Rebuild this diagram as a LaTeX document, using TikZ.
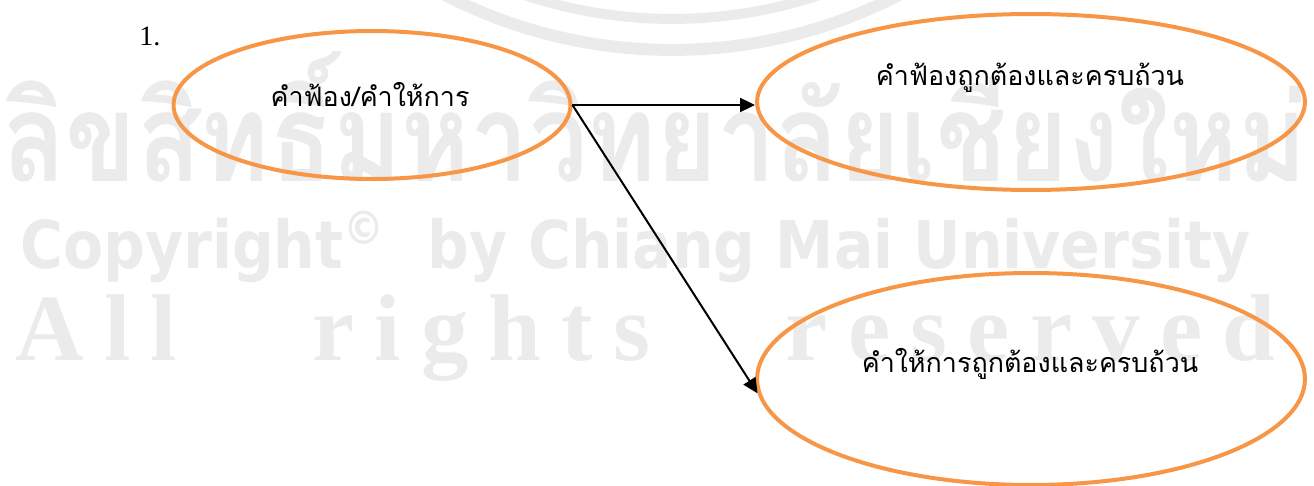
\documentclass[tikz,border=0pt]{standalone}
\usepackage{fontspec}
\setmainfont{Liberation Serif}
\newfontfamily\thaifont[Script=Thai]{Loma}
\newfontfamily\wmsans{DejaVu Sans}
\usetikzlibrary{shapes.geometric,arrows.meta}
\definecolor{ovalorange}{HTML}{F79646}
\definecolor{wmgray}{HTML}{EBEBEB}

\begin{document}
\begin{tikzpicture}[x=0.02cm,y=-0.02cm]
	\tikzstyle{oval}=[ellipse,draw=ovalorange,line width=0.08cm,inner sep=0pt]
	\tikzstyle{thai}=[font=\thaifont\fontsize{15.3}{18}\selectfont,inner sep=0pt,anchor=base]
	\tikzstyle{wm}=[text=wmgray,inner sep=0pt,anchor=base west]
	\tikzstyle{link}=[line width=0.04cm,-{Triangle[length=0.3cm,width=0.28cm]}]
	\useasboundingbox (0,0) rectangle (1314,486);
	% watermark behind the chart
	\begin{scope}
		\clip (0,0) rectangle (1314,486);
		\draw[wmgray,line width=0.24cm] (672,-446) circle[radius=9.92cm];
		\draw[wmgray,line width=0.2cm] (672,-446) circle[radius=9.3cm];
	\end{scope}
	\node[wm] (wmthai) at (2,182) {\resizebox{26.1cm}{2.6cm}{\thaifont\bfseries ลิขสิทธิ์มหาวิทยาลัยเชียงใหม่}};
	\node[wm] (wmcopy) at (20,268) {\resizebox{24.6cm}{1.15cm}{\wmsans\bfseries Copyright\textsuperscript{\textcopyright}\ \ by Chiang Mai University}};
	\node[wm] (wmrights) at (15,360) {\bfseries\fontsize{54}{60}\selectfont\makebox[25.2cm][s]{A l l \hspace{1em} r i g h t s \hspace{1em} r e s e r v e d}};
	% chart
	\node[anchor=base west,inner sep=0pt,font=\fontsize{16}{18}\selectfont] (num) at (139,46) {1.};
	\node[oval,minimum width=7.94cm,minimum height=2.96cm] (e1) at (372,105) {};
	\node[oval,minimum width=10.96cm,minimum height=3.52cm] (e2) at (1031,102) {};
	\node[oval,minimum width=10.96cm,minimum height=4.24cm] (e3) at (1031,379) {};
	\node[thai] (t1) at (370,107) {คำฟ้อง/คำให้การ};
	\node[thai] (t2) at (1030,86) {คำฟ้องถูกต้องและครบถ้วน};
	\node[thai] (t3) at (1030,372) {คำให้การถูกต้องและครบถ้วน};
	\draw[link] (e1.east) -- (e1.east -| e2.west);
	\draw[link] (e1.east) -- (e3.183);
\end{tikzpicture}
\end{document}
